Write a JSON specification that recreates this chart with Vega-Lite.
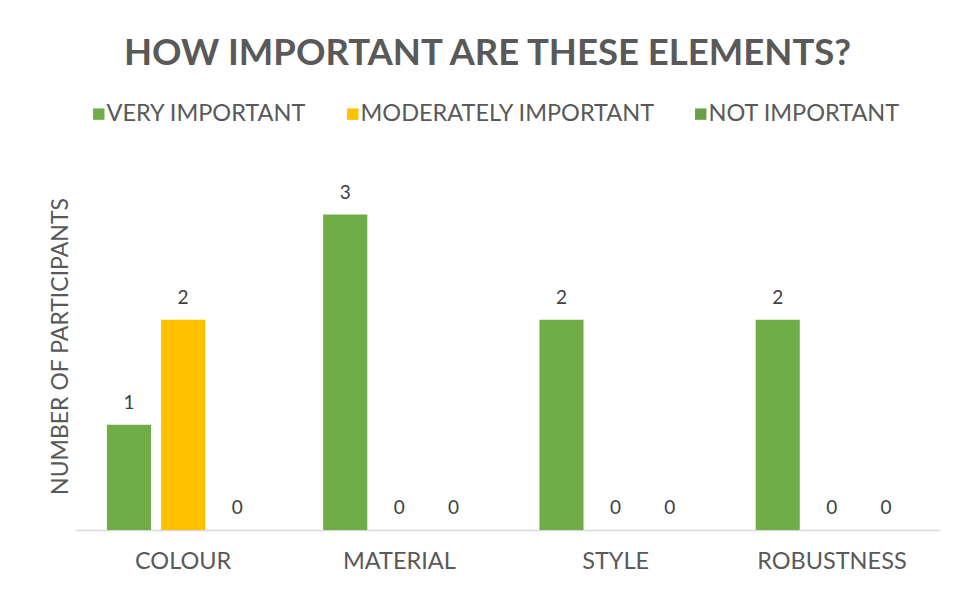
{
  "$schema": "https://vega.github.io/schema/vega-lite/v6.json",
  "autosize": "none",
  "width": 865,
  "height": 368,
  "padding": {"left": 75, "top": 162, "right": 18, "bottom": 60},
  "background": "white",
  "config": {
    "font": "Lato",
    "view": {"stroke": null},
    "axis": {"labelColor": "#595959", "titleColor": "#595959", "grid": false}
  },
  "title": {
    "text": "HOW IMPORTANT ARE THESE ELEMENTS?",
    "fontSize": 36.5,
    "fontWeight": "bold",
    "color": "#595959",
    "anchor": "middle",
    "dx": -20,
    "offset": 30,
    "font": "Lato"
  },
  "data": {
    "values": [
      {"category": "COLOUR", "series": "VERY IMPORTANT", "value": 1},
      {"category": "COLOUR", "series": "MODERATELY IMPORTANT", "value": 2},
      {"category": "COLOUR", "series": "NOT IMPORTANT", "value": 0},
      {"category": "MATERIAL", "series": "VERY IMPORTANT", "value": 3},
      {"category": "MATERIAL", "series": "MODERATELY IMPORTANT", "value": 0},
      {"category": "MATERIAL", "series": "NOT IMPORTANT", "value": 0},
      {"category": "STYLE", "series": "VERY IMPORTANT", "value": 2},
      {"category": "STYLE", "series": "MODERATELY IMPORTANT", "value": 0},
      {"category": "STYLE", "series": "NOT IMPORTANT", "value": 0},
      {"category": "ROBUSTNESS", "series": "VERY IMPORTANT", "value": 2},
      {"category": "ROBUSTNESS", "series": "MODERATELY IMPORTANT", "value": 0},
      {"category": "ROBUSTNESS", "series": "NOT IMPORTANT", "value": 0}
    ]
  },
  "encoding": {
    "x": {
      "field": "category",
      "type": "nominal",
      "sort": ["COLOUR", "MATERIAL", "STYLE", "ROBUSTNESS"],
      "scale": {"paddingInner": 0.25, "paddingOuter": 0.125},
      "axis": {
        "title": null,
        "labelAngle": 0,
        "labelFontSize": 23.5,
        "labelPadding": 19,
        "ticks": false,
        "domainColor": "#D9D9D9",
        "domainWidth": 1.5
      }
    },
    "xOffset": {
      "field": "series",
      "type": "nominal",
      "sort": ["VERY IMPORTANT", "MODERATELY IMPORTANT", "NOT IMPORTANT"],
      "scale": {"paddingInner": 0.185, "paddingOuter": 0.09}
    },
    "y": {
      "field": "value",
      "type": "quantitative",
      "scale": {"domain": [0, 3.5], "nice": false},
      "axis": {
        "title": "NUMBER OF PARTICIPANTS",
        "titleFontSize": 23,
        "titleFontWeight": "normal",
        "titlePadding": 3,
        "labels": false,
        "ticks": false,
        "domain": false,
        "grid": false
      }
    }
  },
  "layer": [
    {
      "mark": {"type": "bar"},
      "encoding": {
        "color": {
          "field": "series",
          "type": "nominal",
          "sort": ["VERY IMPORTANT", "MODERATELY IMPORTANT", "NOT IMPORTANT"],
          "scale": {
            "domain": ["VERY IMPORTANT", "MODERATELY IMPORTANT", "NOT IMPORTANT"],
            "range": ["#70AD47", "#FFC000", "#6A9F4A"]
          },
          "legend": {
            "title": null,
            "orient": "none",
            "legendX": 12,
            "legendY": -60,
            "direction": "horizontal",
            "columns": 3,
            "symbolType": "square",
            "symbolSize": 130,
            "symbolStrokeWidth": 0,
            "symbolOpacity": 1,
            "labelFontSize": 23.5,
            "labelColor": "#595959",
            "labelOffset": -4,
            "columnPadding": 34,
            "labelLimit": 400
          }
        }
      }
    },
    {
      "mark": {
        "type": "text",
        "baseline": "bottom",
        "dy": -12,
        "fontSize": 19,
        "color": "#404040",
        "font": "Lato"
      },
      "encoding": {
        "text": {"field": "value", "type": "quantitative"}
      }
    }
  ]
}
